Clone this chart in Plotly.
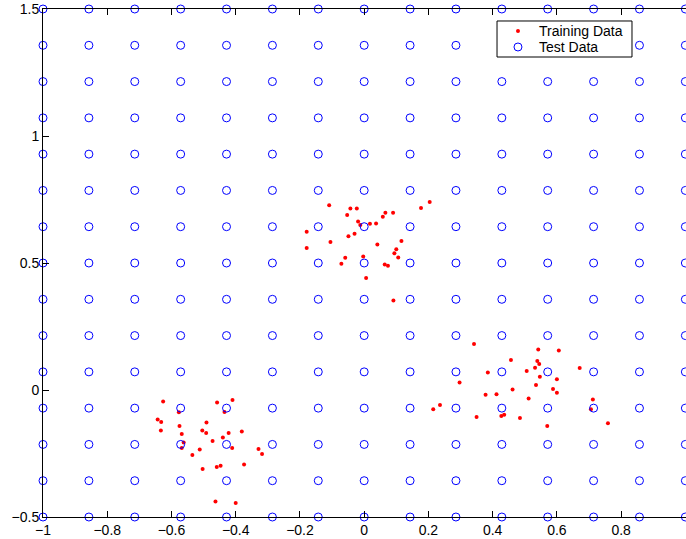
import plotly.graph_objects as go

# Training data: three clusters
train_x = [
    -0.109, -0.043, -0.023, -0.053, 0.204, 0.177, 0.066, 0.090, 0.058, -0.019,
    -0.012, 0.018, 0.037, -0.179, -0.030, -0.049, -0.105, 0.116, 0.041, -0.179,
    0.100, 0.094, 0.106, -0.003, -0.059, -0.071, 0.064, 0.074, 0.006, 0.091,
    -0.626, -0.458, -0.410, -0.577, -0.435, -0.643, -0.632, -0.491, -0.575, -0.633,
    -0.504, -0.492, -0.568, -0.422, -0.381, -0.440, -0.472, -0.562, -0.411, -0.568,
    -0.512, -0.329, -0.318, -0.535, -0.374, -0.503, -0.459, -0.447, -0.463, -0.400,
    0.342, 0.542, 0.606, 0.457, 0.539, 0.545, 0.532, 0.671, 0.506, 0.385,
    0.547, 0.600, 0.297, 0.535, 0.588, 0.462, 0.600, 0.378, 0.412, 0.512,
    0.712, 0.236, 0.215, 0.706, 0.436, 0.427, 0.350, 0.485, 0.570, 0.759,
]
train_y = [
    0.727, 0.715, 0.715, 0.689, 0.740, 0.717, 0.698, 0.698, 0.682, 0.663,
    0.650, 0.655, 0.656, 0.623, 0.615, 0.605, 0.583, 0.587, 0.573, 0.559,
    0.554, 0.538, 0.522, 0.526, 0.521, 0.497, 0.494, 0.489, 0.441, 0.352,
    -0.045, -0.049, -0.039, -0.088, -0.087, -0.116, -0.126, -0.128, -0.142, -0.159,
    -0.159, -0.169, -0.173, -0.169, -0.163, -0.187, -0.201, -0.207, -0.228, -0.228,
    -0.234, -0.232, -0.252, -0.256, -0.293, -0.311, -0.303, -0.298, -0.439, -0.445,
    0.181, 0.159, 0.156, 0.118, 0.114, 0.102, 0.088, 0.087, 0.075, 0.069,
    0.052, 0.042, 0.030, 0.020, 0.004, 0.002, -0.011, -0.019, -0.017, -0.033,
    -0.037, -0.059, -0.076, -0.076, -0.097, -0.102, -0.106, -0.110, -0.142, -0.131,
]

# Test data: regular grid values
grid_x = [-1.0, -0.8571, -0.7143, -0.5714, -0.4286, -0.2857, -0.1429, 0.0,
          0.1429, 0.2857, 0.4286, 0.5714, 0.7143, 0.8571, 1.0]
grid_y = [-0.5, -0.3571, -0.2143, -0.0714, 0.0714, 0.2143, 0.3571, 0.5,
          0.6429, 0.7857, 0.9286, 1.0714, 1.2143, 1.3571, 1.5]

test_x = [gx for gy in grid_y for gx in grid_x]
test_y = [gy for gy in grid_y for gx in grid_x]

legend_labels = ["Training Data", "Test Data"]

font = "Liberation Sans, Arial, Helvetica, sans-serif"
RED = "rgb(255,0,0)"
BLUE = "rgb(0,0,255)"

fig = go.Figure()
fig.add_trace(go.Scatter(
    x=train_x, y=train_y, mode="markers", name=legend_labels[0],
    marker=dict(symbol="circle", size=4, color=RED),
    cliponaxis=False, showlegend=False,
))
fig.add_trace(go.Scatter(
    x=test_x, y=test_y, mode="markers", name=legend_labels[1],
    marker=dict(symbol="circle-open", size=8, color=BLUE,
                line=dict(width=1, color=BLUE)),
    cliponaxis=False, showlegend=False,
))

# Manual MATLAB-style legend box
lx0, lx1, ly0, ly1 = 0.7061, 0.916, 0.9055, 0.9764
sym_x = 0.7387
row_y = [0.9567, 0.9252]
text_x = 0.7675

shapes = [
    dict(type="rect", xref="paper", yref="paper", x0=lx0, x1=lx1, y0=ly0, y1=ly1,
         fillcolor="white", line=dict(color="black", width=1), layer="above"),
    dict(type="circle", xref="paper", yref="paper",
         xsizemode="pixel", ysizemode="pixel", xanchor=sym_x, yanchor=row_y[0],
         x0=-2, x1=2, y0=-2, y1=2, fillcolor=RED, line=dict(width=0), layer="above"),
    dict(type="circle", xref="paper", yref="paper",
         xsizemode="pixel", ysizemode="pixel", xanchor=sym_x, yanchor=row_y[1],
         x0=-4, x1=4, y0=-4, y1=4, fillcolor="rgba(0,0,0,0)",
         line=dict(color=BLUE, width=1), layer="above"),
]
annotations = [
    dict(xref="paper", yref="paper", x=text_x, y=row_y[i], text=legend_labels[i],
         xanchor="left", yanchor="middle", showarrow=False,
         font=dict(family=font, size=14, color="black"))
    for i in range(2)
]

fig.update_layout(
    width=686, height=539,
    margin=dict(l=43, r=0, t=9, b=22),
    paper_bgcolor="white", plot_bgcolor="white",
    font=dict(family=font, size=14, color="black"),
    showlegend=False,
    shapes=shapes,
    annotations=annotations,
    xaxis=dict(
        range=[-1, 1.002], tickmode="array",
        tickvals=[-1, -0.8, -0.6, -0.4, -0.2, 0, 0.2, 0.4, 0.6, 0.8, 1],
        ticktext=["\u22121", "\u22120.8", "\u22120.6", "\u22120.4", "\u22120.2",
                  "0", "0.2", "0.4", "0.6", "0.8", "1"],
        ticks="inside", ticklen=6, tickwidth=1, tickcolor="black",
        showline=True, linecolor="black", linewidth=1, mirror="ticks",
        showgrid=False, zeroline=False,
    ),
    yaxis=dict(
        range=[-0.5, 1.5], tickmode="array",
        tickvals=[-0.5, 0, 0.5, 1, 1.5],
        ticktext=["\u22120.5", "0", "0.5", "1", "1.5"],
        ticks="inside", ticklen=6, tickwidth=1, tickcolor="black",
        showline=True, linecolor="black", linewidth=1, mirror=False,
        showgrid=False, zeroline=False,
    ),
)

fig.write_html("out.html")
